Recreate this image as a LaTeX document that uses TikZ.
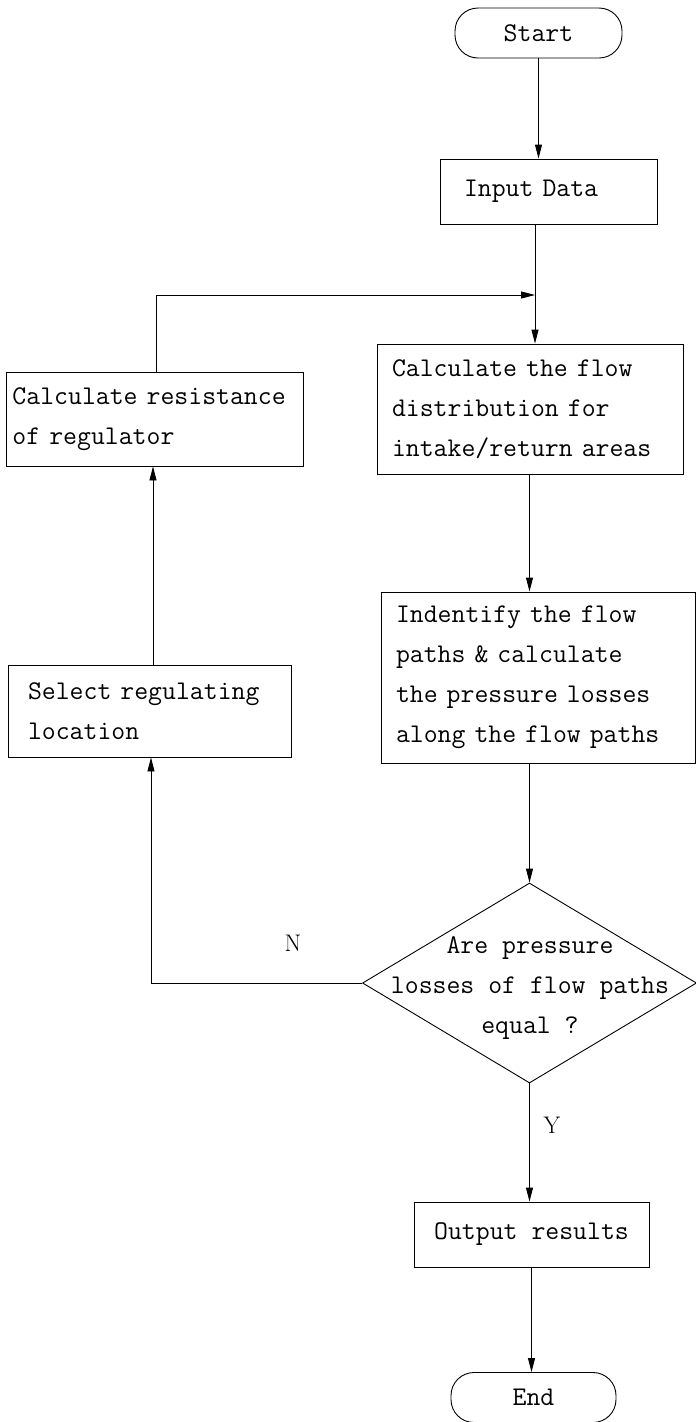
\documentclass[tikz,border=0pt]{standalone}
\usepackage{fontspec}
\usetikzlibrary{arrows.meta,shapes.geometric}

\begin{document}
\begin{tikzpicture}[x=1pt,y=-1pt,
  every node/.style={font=\ttfamily\fontsize{27}{40}\selectfont},
  line/.style={line width=0.9pt, draw=black},
  flowarrow/.style={line, -{Triangle[length=14pt,width=7pt]}},
  term/.style={draw, line width=0.9pt, rectangle, rounded corners=23pt,
    inner sep=0pt, minimum width=#1, minimum height=50pt},
  proc/.style={draw, line width=0.9pt, rectangle, inner ysep=0pt, align=left},
  decide/.style={draw, line width=0.9pt, diamond, inner sep=0pt,
    minimum width=334pt, minimum height=200pt},
  yesno/.style={font=\rmfamily\fontsize{24}{24}\selectfont}
]
\useasboundingbox (0,0) rectangle (696,1422);

% terminals and process boxes
\node[term=167pt] (start) at (538.5,33) {Start};
\node[proc, minimum height=65pt, inner xsep=24pt, text width=169pt] (input) at (548.5,191.5) {Input Data};
\node[proc, minimum height=130pt, inner xsep=15pt, text width=276pt] (flow) at (530,409)
  {Calculate the flow\\distribution for\\intake/return areas};
\node[proc, minimum height=94pt, inner xsep=6.5pt, text width=284pt] (res) at (154.5,419)
  {Calculate resistance\\of regulator};
\node[proc, minimum height=171pt, inner xsep=15pt, text width=284pt] (ident) at (538,677.5)
  {Indentify the flow\\paths \& calculate\\the pressure losses\\along the flow paths};
\node[proc, minimum height=92pt, inner xsep=20pt, text width=243pt] (sel) at (149.5,711)
  {Select regulating\\location};
\node[decide] (dec) at (529.5,983) {};
\node[align=center] (dtext) at (530,988) {Are pressure\\losses of flow paths\\equal ?};
\node[proc, minimum width=235pt, minimum height=65pt, align=center] (out) at (531.5,1234.5) {Output results};
\node[term=165pt] (end) at (533.5,1397.5) {End};

% branch labels
\node[yesno] (nlab) at (293,943) {N};
\node[yesno] (ylab) at (552,1125) {Y};

% routing points
\coordinate (j) at (535,295);
\coordinate (fb) at (156,295);
\coordinate (ax) at (529.5,0);
\coordinate (lx) at (153,0);
\coordinate (nx) at (151,0);

% connectors
\draw[flowarrow] (start.south) -- (start.south |- input.north);
\draw[flowarrow] (input.south -| j) -- (flow.north -| j);
\draw[line] (res.north -| fb) -- (fb);
\draw[flowarrow] (fb) -- (j);
\draw[flowarrow] (flow.south -| ax) -- (ident.north -| ax);
\draw[flowarrow] (ident.south -| ax) -- (dec.north);
\draw[line] (dec.west) -- (dec.west -| nx);
\draw[flowarrow] (dec.west -| nx) -- (sel.south -| nx);
\draw[flowarrow] (sel.north -| lx) -- (res.south -| lx);
\draw[flowarrow] (dec.south) -- (dec.south |- out.north);
\draw[flowarrow] (out.south) -- (out.south |- end.north);
\end{tikzpicture}
\end{document}
